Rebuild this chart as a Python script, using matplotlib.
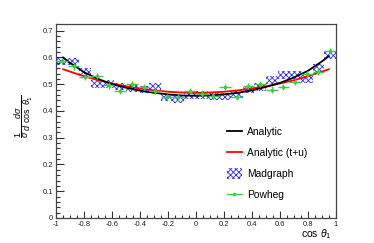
import numpy as np
import matplotlib
matplotlib.use('Agg')
import matplotlib.pyplot as plt
from matplotlib.lines import Line2D
from matplotlib.patches import Patch

plt.rcParams['font.family'] = ['Liberation Sans', 'DejaVu Sans']
plt.rcParams['mathtext.fontset'] = 'custom'
plt.rcParams['mathtext.rm'] = 'Liberation Sans'
plt.rcParams['mathtext.it'] = 'Liberation Sans:italic'
plt.rcParams['hatch.linewidth'] = 0.6

# 24 bins from -1 to 1
bin_edges = np.linspace(-1, 1, 25)

madgraph = [0.585, 0.585, 0.545, 0.500, 0.500, 0.492, 0.485, 0.480,
            0.490, 0.450, 0.445, 0.460, 0.460, 0.455, 0.455, 0.462,
            0.480, 0.490, 0.515, 0.535, 0.535, 0.520, 0.560, 0.610]
madgraph_err = 0.014

powheg = [0.586, 0.567, 0.526, 0.530, 0.496, 0.474, 0.500, 0.489,
          0.474, 0.451, 0.451, 0.474, 0.465, 0.455, 0.489, 0.452,
          0.493, 0.500, 0.480, 0.490, 0.510, 0.537, 0.547, 0.624]
powheg_err = 0.012

# analytic curves
curve_x = [-0.95, -0.9, -0.8, -0.7, -0.6, -0.5, -0.4, -0.3, -0.2, -0.1, 0.0,
           0.1, 0.2, 0.3, 0.4, 0.5, 0.6, 0.7, 0.8, 0.9, 0.95]
analytic = [0.600, 0.580, 0.545, 0.520, 0.500, 0.487, 0.476, 0.468, 0.462, 0.458, 0.457,
            0.458, 0.462, 0.468, 0.477, 0.490, 0.505, 0.525, 0.550, 0.585, 0.605]
analytic_tu = [0.556, 0.547, 0.530, 0.515, 0.503, 0.492, 0.484, 0.477, 0.472, 0.469, 0.468,
               0.469, 0.472, 0.477, 0.484, 0.492, 0.503, 0.515, 0.530, 0.547, 0.556]

blue = '#2a2aff'
green = '#40cc40'

fig = plt.figure(figsize=(3.74, 2.43), dpi=100)
ax = fig.add_axes([0.150, 0.103, 0.748, 0.798])

centers = 0.5 * (bin_edges[:-1] + bin_edges[1:])
width = bin_edges[1] - bin_edges[0]
mg = np.array(madgraph)
ax.bar(centers, 2 * madgraph_err, bottom=mg - madgraph_err, width=width,
       facecolor='none', edgecolor=blue, hatch='xxxxxx', linewidth=0, zorder=1)

ax.plot(curve_x, analytic, color='black', lw=1.3, zorder=3)
ax.plot(curve_x, analytic_tu, color='red', lw=1.3, zorder=2)

ax.errorbar(centers, powheg, xerr=width / 2, yerr=powheg_err, fmt='o', ms=1.5,
            color=green, ecolor=green, elinewidth=1.0, capsize=0, zorder=4)

ax.set_xlim(-1, 1)
ax.set_ylim(0, 0.725)
ax.set_xticks(np.arange(-1, 1.01, 0.2))
ax.set_xticklabels(['-1', '-0.8', '-0.6', '-0.4', '-0.2', '0', '0.2', '0.4', '0.6', '0.8', '1'])
ax.set_xticks(np.arange(-1, 1.01, 0.05), minor=True)
ax.set_yticks(np.arange(0, 0.71, 0.1))
ax.set_yticklabels(['0', '0.1', '0.2', '0.3', '0.4', '0.5', '0.6', '0.7'])
ax.set_yticks(np.arange(0, 0.72, 0.02), minor=True)
ax.tick_params(axis='both', which='both', direction='in', labelsize=5.5,
               colors='#333333', labelcolor='#222222', width=0.8)
ax.tick_params(axis='x', which='major', length=5, pad=2)
ax.tick_params(axis='x', which='minor', length=2.5)
ax.tick_params(axis='y', which='major', length=6, pad=2)
ax.tick_params(axis='y', which='minor', length=3)
for s in ax.spines.values():
    s.set_color('#444444')
    s.set_linewidth(0.9)

ax.set_xlabel(r'cos $\theta_{1}$', fontsize=7.5)
ax.xaxis.set_label_coords(0.93, -0.05)
ax.set_ylabel(r'$\dfrac{1}{\sigma}\,\dfrac{d\sigma}{d\ \cos\ \theta_{1}}$', fontsize=6.5)
ax.yaxis.set_label_coords(-0.075, 0.526)

handles = [Line2D([], [], color='black', lw=1.3),
           Line2D([], [], color='red', lw=1.3),
           Patch(facecolor='none', edgecolor=blue, hatch='xxxxxx', linewidth=0),
           Line2D([], [], color=green, lw=1.0, marker='o', ms=1.5)]
labels = ['Analytic', 'Analytic (t+u)', 'Madgraph', 'Powheg']
ax.legend(handles, labels, loc='upper left', bbox_to_anchor=(0.595, 0.497),
          bbox_transform=fig.transFigure, frameon=False, fontsize=7.4,
          handlelength=1.5, handletextpad=0.5, labelspacing=0.95,
          handleheight=1.3, borderaxespad=0)

fig.savefig('out.png', dpi=100)
